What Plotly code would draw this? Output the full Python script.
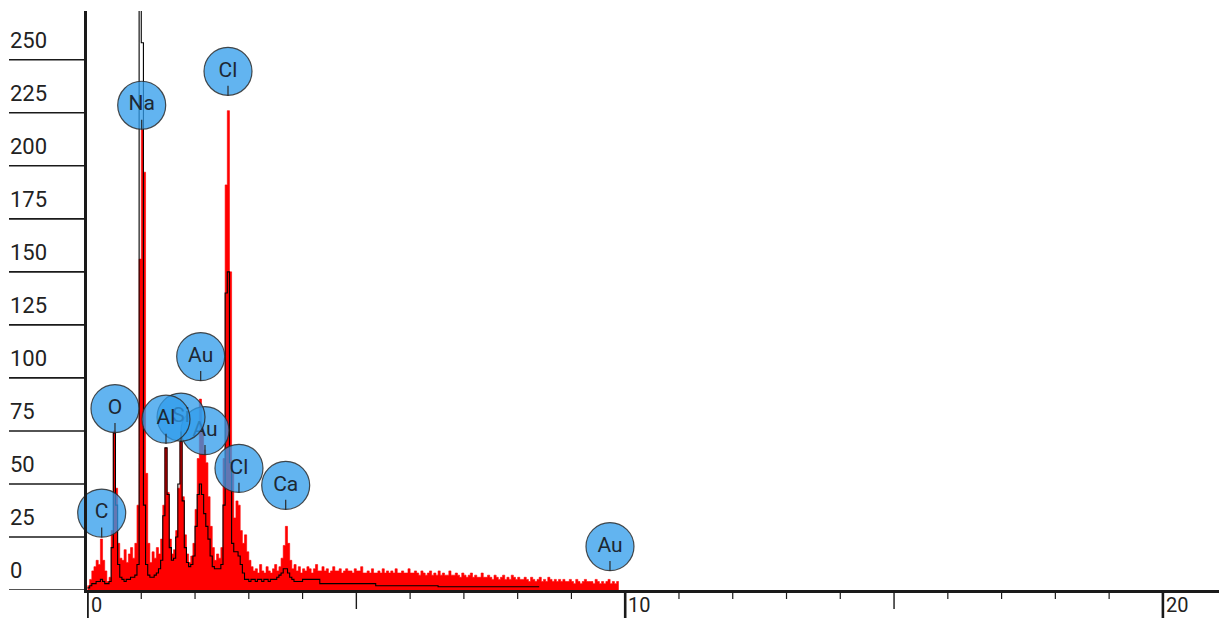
import numpy as np
import plotly.graph_objects as go

# ---------------- data ----------------
channel_width_kev = 0.04

# red spectrum (counts per 0.04 keV channel, starting at 0 keV)
red_counts = [
    2, 5, 9, 11, 14, 12, 24, 14, 9, 4,            # 0.00-0.40
    6, 28, 75, 48, 22, 15, 14, 19, 13, 17,        # 0.40-0.80
    20, 15, 22, 40, 156, 217, 197, 55, 22, 13,    # 0.80-1.20
    18, 15, 20, 17, 24, 40, 67, 46, 24, 17,       # 1.20-1.60
    19, 28, 48, 70, 44, 26, 17, 13, 16, 22,       # 1.60-2.00
    38, 62, 90, 78, 66, 60, 44, 30, 20, 14,       # 2.00-2.40
    17, 15, 20, 62, 191, 226, 150, 55, 34, 42,    # 2.40-2.80
    40, 28, 22, 26, 18, 14, 11, 9, 10, 8,         # 2.80-3.20
    12, 9, 8, 11, 9, 8, 10, 12, 9, 11,            # 3.20-3.60
    15, 21, 30, 22, 14, 10, 12, 9, 11, 8,         # 3.60-4.00
    10, 9, 11, 10, 8, 10, 12, 9, 9, 11,           # 4.00-4.40
    9, 10, 8, 9, 11, 9, 9, 10, 8, 9,              # 4.40-4.80
    10, 9, 9, 8, 10, 9, 9, 11, 8, 8,              # 4.80-5.20
    9, 8, 10, 8, 8, 9, 8, 10, 8, 9,               # 5.20-5.60
    8, 9, 8, 10, 8, 8, 9, 8, 8, 10,               # 5.60-6.00
    8, 8, 9, 8, 7, 9, 8, 7, 8, 9,                 # 6.00-6.40
    7, 8, 7, 9, 7, 8, 7, 7, 9, 7,                 # 6.40-6.80
    7, 8, 7, 6, 8, 7, 6, 7, 8, 6,                 # 6.80-7.20
    7, 6, 6, 8, 6, 6, 7, 6, 5, 7,                 # 7.20-7.60
    6, 5, 6, 7, 5, 6, 5, 7, 6, 5,                 # 7.60-8.00
    6, 5, 5, 6, 5, 4, 6, 5, 4, 5,                 # 8.00-8.40
    6, 4, 5, 4, 6, 5, 4, 5, 4, 5,                 # 8.40-8.80
    4, 5, 4, 4, 5, 4, 3, 5, 4, 3,                 # 8.80-9.20
    4, 5, 4, 4, 4, 3, 5, 4, 3, 4,                 # 9.20-9.60
    3, 4, 5, 3, 4, 3, 4,                          # 9.60-9.88
]

# black spectrum (second trace, same channel grid)
black_counts = [
    1, 2, 3, 3, 4, 4, 5, 4, 3, 3,                 # 0.00-0.40
    4, 20, 74, 40, 12, 6, 5, 4, 5, 5,             # 0.40-0.80
    6, 6, 7, 12, 300, 258, 40, 12, 7, 6,          # 0.80-1.20
    6, 7, 8, 10, 14, 35, 67, 45, 20, 14,          # 1.20-1.60
    15, 25, 50, 70, 42, 20, 13, 11, 12, 16,       # 1.60-2.00
    30, 45, 50, 45, 36, 30, 24, 16, 11, 10,       # 2.00-2.40
    10, 10, 12, 40, 140, 150, 60, 22, 18, 18,     # 2.40-2.80
    16, 12, 8, 5, 5, 4, 5, 5, 4, 5,               # 2.80-3.20
    5, 4, 5, 5, 4, 5, 5, 5, 6, 7,                 # 3.20-3.60
    8, 10, 10, 8, 6, 5, 4, 4, 4, 4,               # 3.60-4.00
    5, 5, 5, 5, 5, 5, 5, 5, 3, 3,                 # 4.00-4.40
    3, 3, 3, 3, 3, 3, 3, 3, 3, 3,                 # 4.40-4.80
    3, 3, 3, 3, 3, 3, 3, 3, 3, 3,                 # 4.80-5.20
    3, 3, 3, 3, 2, 2, 2, 2, 2, 2,                 # 5.20-5.60
    2, 2, 2, 2, 2, 2, 2, 2, 2, 2,                 # 5.60-6.00
    2, 2, 2, 2, 2, 2, 2, 2, 2, 2,                 # 6.00-6.40
    2, 2, 2, 1.5, 1.5, 1.5, 1.5, 1.5, 1.5, 1.5,   # 6.40-6.80
    1.5, 1.5, 1.5, 1.5, 1.5, 1.5, 1.5, 1.5, 1.5, 1.5,  # 6.80-7.20
    1.5, 1.5, 1.5, 1.5, 1.5, 1.5, 1.5, 1.5, 1.5, 1.5,  # 7.20-7.60
    1.5, 1.5, 1.5, 1.5, 1.5, 1.5, 1.5, 1.5, 1.5, 1.5,  # 7.60-8.00
    1.5, 1.5, 1.5, 1.5, 1.5, 1.5, 1.5, 1.5, 1.5, 1.5,  # 8.00-8.40
]

# element markers
label_names = ["C", "O", "Na", "Al", "Si", "Au", "Au", "Cl", "Cl", "Ca", "Au"]
label_energy = [0.264, 0.511, 1.008, 1.46, 1.739, 2.105, 2.185, 2.613, 2.817, 3.686, 9.717]
label_height = [24.7, 74, 217, 69, 70, 98.5, 63.6, 233, 45.8, 37.8, 8.9]

y_tick_values = [0, 25, 50, 75, 100, 125, 150, 175, 200, 225, 250]
x_major_ticks = [0, 10, 20]
x_medium_ticks = [5, 15]
x_minor_ticks = [1, 2, 3, 4, 6, 7, 8, 9, 11, 12, 13, 14, 16, 17, 18, 19]

# ---------------- layout geometry ----------------
W, H = 1219, 618
M_L, M_R, M_T, M_B = 87, 0, 11, 28
plot_w = W - M_L - M_R
plot_h = H - M_T - M_B
px_per_kev = 53.77
px_per_count = 2.121
x_min = (87.5 - M_L) * -1 / px_per_kev
x_max = x_min + plot_w / px_per_kev
y_max = plot_h / px_per_count

AXIS = "#1a1a1a"
FONT = "Roboto, 'Open Sans', sans-serif"

fig = go.Figure()

# red filled step spectrum
red_edges = np.arange(len(red_counts) + 1) * channel_width_kev
red_vals = list(red_counts) + [red_counts[-1]]
fig.add_trace(go.Scatter(
    x=red_edges, y=red_vals, mode="lines", line=dict(shape="hv", color="#ff0000", width=0.6),
    fill="tozeroy", fillcolor="#ff0000", hoverinfo="skip", showlegend=False))

# black step line
black_edges = np.arange(len(black_counts) + 1) * channel_width_kev
black_vals = list(black_counts) + [black_counts[-1]]
fig.add_trace(go.Scatter(
    x=black_edges, y=black_vals, mode="lines", line=dict(shape="hv", color="#000000", width=1.1),
    hoverinfo="skip", showlegend=False))

# element label circles (drawn from high to low energy so lower energies sit on top)
count_per_px = y_max / plot_h
circle_r_px = 24.5
order = sorted(range(len(label_names)), key=lambda i: -label_energy[i])
shapes = []
for i in order:
    e, h, n = label_energy[i], label_height[i], label_names[i]
    fig.add_trace(go.Scatter(
        x=[e], y=[h + circle_r_px * count_per_px], mode="markers+text",
        marker=dict(size=48, color="rgba(48,156,235,0.76)",
                    line=dict(color="rgba(45,45,45,0.85)", width=1.2)),
        text=[n], textposition="middle center",
        textfont=dict(family=FONT, size=21, color="#1d2833"),
        cliponaxis=False, hoverinfo="skip", showlegend=False))
    fig.add_trace(go.Scatter(
        x=[e, e], y=[h, h + 10 * count_per_px], mode="lines",
        line=dict(color="#2a2a2a", width=1.2), hoverinfo="skip", showlegend=False))

# y-axis long ticks + labels above them
annotations = []
for v in y_tick_values:
    shapes.append(dict(type="line", xref="paper", yref="y", xsizemode="pixel", xanchor=0,
                       x0=-78, x1=0, y0=v, y1=v, line=dict(color=AXIS, width=1.6), layer="above"))
    annotations.append(dict(xref="paper", yref="y", x=0, y=v, xshift=-79, yshift=5,
                            xanchor="left", yanchor="bottom", showarrow=False, text=str(v),
                            font=dict(family=FONT, size=22, color="#222222")))

# x-axis ticks
for v in x_minor_ticks:
    shapes.append(dict(type="line", xref="x", yref="paper", ysizemode="pixel", yanchor=0,
                       x0=v, x1=v, y0=-9, y1=0, line=dict(color=AXIS, width=1.2)))
for v in x_medium_ticks:
    shapes.append(dict(type="line", xref="x", yref="paper", ysizemode="pixel", yanchor=0,
                       x0=v, x1=v, y0=-19, y1=0, line=dict(color=AXIS, width=1.4)))
for v in x_major_ticks:
    shapes.append(dict(type="line", xref="x", yref="paper", ysizemode="pixel", yanchor=0,
                       x0=v, x1=v, y0=-30, y1=0, line=dict(color=AXIS, width=2.6)))
    annotations.append(dict(xref="x", yref="paper", x=v, y=0, xshift=2, yshift=-2,
                            xanchor="left", yanchor="top", showarrow=False, text=str(v),
                            borderpad=0,
                            font=dict(family=FONT, size=20, color="#222222")))

fig.update_layout(
    width=W, height=H,
    margin=dict(l=M_L, r=M_R, t=M_T, b=M_B, pad=0),
    plot_bgcolor="white", paper_bgcolor="white",
    showlegend=False,
    shapes=shapes, annotations=annotations,
    xaxis=dict(range=[x_min, x_max], showline=True, linewidth=2.6, linecolor=AXIS,
               showgrid=False, zeroline=False, ticks="", showticklabels=False, fixedrange=True),
    yaxis=dict(range=[0, y_max], showline=True, linewidth=3, linecolor=AXIS,
               showgrid=False, zeroline=False, ticks="", showticklabels=False, fixedrange=True),
)

fig.write_html("out.html", config={"displayModeBar": False},
               post_script="document.body.style.margin='0';document.body.style.overflow='hidden';")
